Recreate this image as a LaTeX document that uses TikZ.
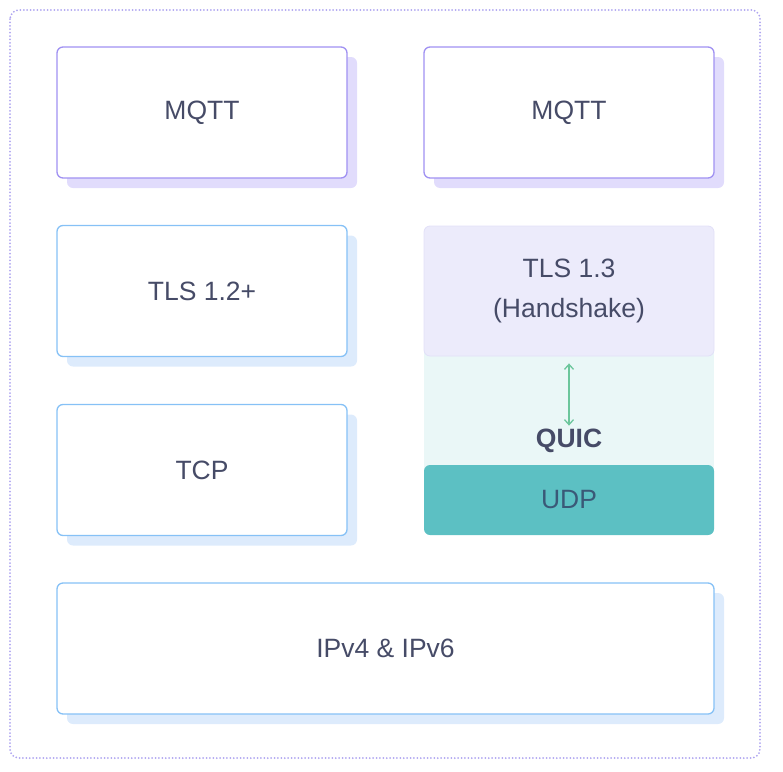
\documentclass[tikz,border=0pt]{standalone}
\usepackage{fontspec}
\setmainfont{Liberation Sans}
\usetikzlibrary{arrows.meta,shadows}
\definecolor{txt}{HTML}{464B67}
\definecolor{purp}{HTML}{A091F2}
\definecolor{purpsh}{HTML}{E1DCFC}
\definecolor{blu}{HTML}{86C1F6}
\definecolor{blush}{HTML}{DDEBFC}
\definecolor{lilac}{HTML}{ECEBFB}
\definecolor{lilacln}{HTML}{E2E0F8}
\definecolor{quicbg}{HTML}{EAF7F7}
\definecolor{udp}{HTML}{5CC0C3}
\definecolor{udptxt}{HTML}{3A5977}
\definecolor{arr}{HTML}{6CC69C}
\definecolor{frame}{HTML}{AFA5F0}
\tikzset{
  layer/.style={rounded corners=6pt,line width=1.3pt,fill=white,text=txt,
    minimum width=290pt,minimum height=131pt,font=\fontsize{26.5}{40}\selectfont},
  mqttbox/.style={layer,draw=purp,general shadow={fill=purpsh,shadow xshift=10pt,shadow yshift=-10pt}},
  netbox/.style={layer,draw=blu,general shadow={fill=blush,shadow xshift=10pt,shadow yshift=-10pt}}
}
\begin{document}
\begin{tikzpicture}[x=1pt,y=-1pt]
\useasboundingbox (0,0) rectangle (783,771);
\draw[frame,line width=2pt,line cap=round,dash pattern=on 0pt off 3.4pt,rounded corners=9pt] (10,10) rectangle (760,758);
\node[mqttbox] (mqtta) at (202,112.5) {MQTT};
\node[mqttbox] (mqttb) at (569,112.5) {MQTT};
\node[netbox] (tls) at (202,291) {TLS 1.2+};
\node[netbox] (tcp) at (202,470) {TCP};
\fill[quicbg] (424,350) rectangle (714,490);
\node[layer,fill=lilac,draw=lilacln,line width=0.8pt,minimum height=130pt,align=center] (tlsq) at (569,291) {TLS 1.3\\(Handshake)};
\node[layer,fill=udp,draw=none,text=udptxt,minimum height=70pt] (udp) at (569,500) {UDP};
\node[text=txt,font=\fontsize{26.5}{30}\selectfont\bfseries] (quic) at (569,441) {QUIC};
\draw[arr,line width=1.3pt,{Straight Barb[length=5pt,width=9pt]}-{Straight Barb[length=5pt,width=9pt]},shorten <=7pt,shorten >=0pt] (tlsq.south) -- (quic.north);
\node[netbox,minimum width=657pt] (ip) at (385.5,648.5) {IPv4 \& IPv6};
\end{tikzpicture}
\end{document}
